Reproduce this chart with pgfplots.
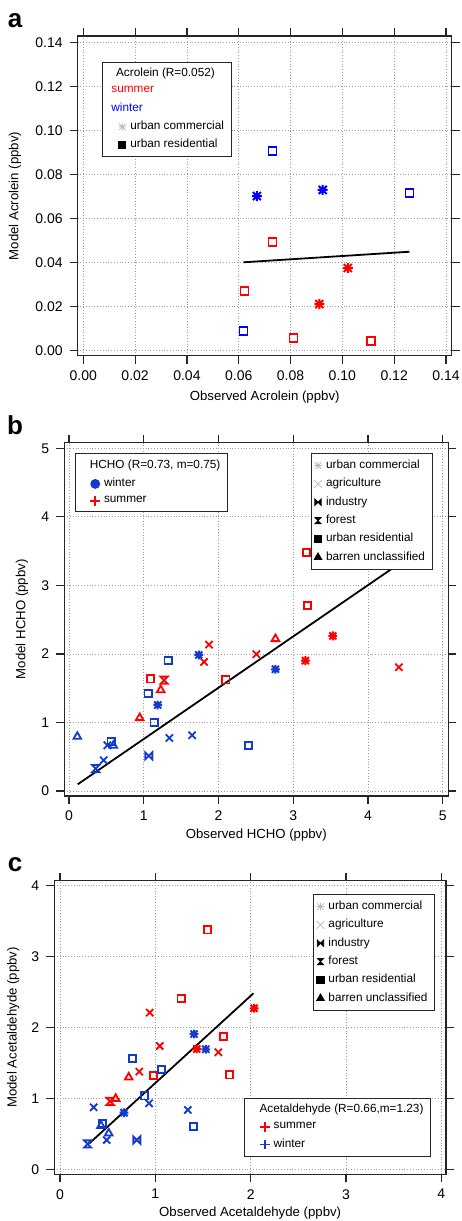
\documentclass[border=0pt]{standalone}
\usepackage{fontspec}
\setmainfont{Liberation Sans}
\usepackage{pgfplots}
\pgfplotsset{compat=1.18}

\definecolor{ared}{RGB}{255,0,0}
\definecolor{ablue}{RGB}{0,0,255}
\definecolor{bblue}{RGB}{18,58,205}

% Igor-like markers
\pgfdeclareplotmark{ast8}{%
  \pgfpathmoveto{\pgfqpoint{-\pgfplotmarksize}{0pt}}\pgfpathlineto{\pgfqpoint{\pgfplotmarksize}{0pt}}%
  \pgfpathmoveto{\pgfqpoint{0pt}{-\pgfplotmarksize}}\pgfpathlineto{\pgfqpoint{0pt}{\pgfplotmarksize}}%
  \pgfpathmoveto{\pgfqpoint{-.8\pgfplotmarksize}{-.8\pgfplotmarksize}}\pgfpathlineto{\pgfqpoint{.8\pgfplotmarksize}{.8\pgfplotmarksize}}%
  \pgfpathmoveto{\pgfqpoint{-.8\pgfplotmarksize}{.8\pgfplotmarksize}}\pgfpathlineto{\pgfqpoint{.8\pgfplotmarksize}{-.8\pgfplotmarksize}}%
  \pgfusepathqstroke}
\pgfdeclareplotmark{xx}{%
  \pgfpathmoveto{\pgfqpoint{-\pgfplotmarksize}{-\pgfplotmarksize}}\pgfpathlineto{\pgfqpoint{\pgfplotmarksize}{\pgfplotmarksize}}%
  \pgfpathmoveto{\pgfqpoint{-\pgfplotmarksize}{\pgfplotmarksize}}\pgfpathlineto{\pgfqpoint{\pgfplotmarksize}{-\pgfplotmarksize}}%
  \pgfusepathqstroke}
\pgfdeclareplotmark{bowtie}{%
  \pgfpathmoveto{\pgfqpoint{-\pgfplotmarksize}{-\pgfplotmarksize}}%
  \pgfpathlineto{\pgfqpoint{\pgfplotmarksize}{\pgfplotmarksize}}%
  \pgfpathlineto{\pgfqpoint{\pgfplotmarksize}{-\pgfplotmarksize}}%
  \pgfpathlineto{\pgfqpoint{-\pgfplotmarksize}{\pgfplotmarksize}}%
  \pgfpathclose\pgfusepathqstroke}
\pgfdeclareplotmark{bowtie*}{%
  \pgfpathmoveto{\pgfqpoint{-\pgfplotmarksize}{-\pgfplotmarksize}}%
  \pgfpathlineto{\pgfqpoint{\pgfplotmarksize}{\pgfplotmarksize}}%
  \pgfpathlineto{\pgfqpoint{\pgfplotmarksize}{-\pgfplotmarksize}}%
  \pgfpathlineto{\pgfqpoint{-\pgfplotmarksize}{\pgfplotmarksize}}%
  \pgfpathclose\pgfusepathqfillstroke}
\pgfdeclareplotmark{hglass}{%
  \pgfpathmoveto{\pgfqpoint{-\pgfplotmarksize}{\pgfplotmarksize}}%
  \pgfpathlineto{\pgfqpoint{\pgfplotmarksize}{\pgfplotmarksize}}%
  \pgfpathlineto{\pgfqpoint{-\pgfplotmarksize}{-\pgfplotmarksize}}%
  \pgfpathlineto{\pgfqpoint{\pgfplotmarksize}{-\pgfplotmarksize}}%
  \pgfpathclose\pgfusepathqstroke}
\pgfdeclareplotmark{hglass*}{%
  \pgfpathmoveto{\pgfqpoint{-\pgfplotmarksize}{\pgfplotmarksize}}%
  \pgfpathlineto{\pgfqpoint{\pgfplotmarksize}{\pgfplotmarksize}}%
  \pgfpathlineto{\pgfqpoint{-\pgfplotmarksize}{-\pgfplotmarksize}}%
  \pgfpathlineto{\pgfqpoint{\pgfplotmarksize}{-\pgfplotmarksize}}%
  \pgfpathclose\pgfusepathqfillstroke}

\pgfplotsset{
  igor/.style={
    scale only axis, anchor=south west,
    axis line style={black!85, line width=0.6pt},
    tick align=outside, major tick length=4pt,
    tick style={black!85, line width=0.6pt},
    grid=major, major grid style={densely dotted, gray!75, line width=0.4pt},
    tick label style={font=\fontsize{7}{8}\selectfont},
    label style={font=\fontsize{6.6}{8}\selectfont},
    /pgf/number format/assume math mode=true,
    legend cell align=left,
    legend style={draw=black!85, line width=0.5pt, fill=white,
      font=\fontsize{5.9}{7}\selectfont, inner xsep=1.5pt, inner ysep=1pt, row sep=-0.6pt},
  },
  pt/.style={only marks, forget plot, line width=0.9pt, mark size=1.8pt},
  as/.style={pt, mark=ast8, line width=1pt, mark size=2.2pt},
  xs/.style={pt, mark=xx, mark size=1.8pt},
  lg/.style={only marks, line width=0.4pt, mark size=2pt},
}

\begin{document}
\begin{tikzpicture}
\path[use as bounding box] (0,0) rectangle (230.5pt,610.5pt);

% ---------------- a: acrolein
\begin{axis}[igor,
  at={(38.85pt,432.65pt)}, width=187pt, height=159.85pt,
  xmin=-0.00216, xmax=0.1422, ymin=-0.00245, ymax=0.14286,
  xtick={0,0.02,...,0.141}, ytick={0,0.02,...,0.141},
  xticklabel style={/pgf/number format/.cd, fixed, fixed zerofill, precision=2},
  yticklabel style={/pgf/number format/.cd, fixed, fixed zerofill, precision=2},
  xlabel={Observed Acrolein (ppbv)}, ylabel={Model Acrolein (ppbv)},
  xlabel style={at={(axis description cs:0.5,-0.128)}, anchor=center},
  ylabel style={at={(axis description cs:-0.1676,0.5)}, anchor=center},
  legend style={at={(0.0642,0.9196)}, anchor=north west},
]
\addplot[pt, mark=square, ablue, mark size=2pt] coordinates {(0.0730,0.0906) (0.1259,0.0716) (0.0618,0.0086)};
\addplot[as, ablue, mark size=2.5pt] coordinates {(0.0670,0.0701) (0.0924,0.0729)};
\addplot[pt, mark=square, ared, mark size=2pt] coordinates {(0.0730,0.0491) (0.0622,0.0270) (0.0811,0.0057) (0.1111,0.0041)};
\addplot[as, ared, mark size=2.5pt] coordinates {(0.1021,0.0374) (0.0911,0.0210)};
\addplot[forget plot, black, line width=0.9pt] coordinates {(0.0618,0.0400) (0.1259,0.0448)};
\addlegendimage{empty legend}\addlegendentry{\hspace{-1.2em}Acrolein (R=0.052)}
\addlegendimage{empty legend}\addlegendentry{\hspace{-1.6em}\textcolor{ared}{summer}}
\addlegendimage{empty legend}\addlegendentry{\hspace{-1.6em}\textcolor{ablue}{winter}}
\addlegendimage{lg, mark=ast8, gray!55}\addlegendentry{urban commercial}
\addlegendimage{lg, mark=square*, black, mark size=1.8pt}\addlegendentry{urban residential}
\end{axis}

% ---------------- b: HCHO
\begin{axis}[igor,
  at={(32.15pt,212.5pt)}, width=192pt, height=176.65pt,
  xmin=-0.063, xmax=5.075, ymin=-0.073, ymax=5.082,
  xtick={0,...,5}, ytick={0,...,5},
  xlabel={Observed HCHO (ppbv)}, ylabel={Model HCHO (ppbv)},
  xlabel style={at={(axis description cs:0.5,-0.110)}, anchor=center},
  ylabel style={at={(axis description cs:-0.110,0.5)}, anchor=center},
  legend style={at={(0.027,0.970)}, anchor=north west},
]
\addplot[pt, mark=square, ared] coordinates {(3.18,3.48) (3.195,2.705) (2.098,1.620) (1.093,1.635)};
\addplot[pt, mark=triangle, ared, mark size=2.2pt] coordinates {(2.762,2.219) (1.227,1.474) (0.946,1.066)};
\addplot[as, ared] coordinates {(3.53,2.263) (3.163,1.902)};
\addplot[xs, ared] coordinates {(4.414,1.806) (2.507,1.995) (1.874,2.136) (1.807,1.883)};
\addplot[pt, mark=hglass, ared] coordinates {(1.272,1.616)};
\addplot[pt, mark=square, bblue] coordinates {(1.325,1.902) (1.058,1.426) (1.138,0.998) (2.400,0.662) (0.562,0.720)};
\addplot[as, bblue] coordinates {(1.736,1.985) (2.762,1.776) (1.187,1.255)};
\addplot[pt, mark=triangle, bblue, mark size=2.2pt] coordinates {(0.111,0.793) (0.593,0.662)};
\addplot[xs, bblue] coordinates {(1.343,0.774) (1.647,0.813) (0.513,0.667) (0.464,0.448)};
\addplot[pt, mark=bowtie, bblue] coordinates {(1.067,0.511)};
\addplot[pt, mark=hglass, bblue] coordinates {(0.357,0.326)};
\addplot[forget plot, black, line width=0.9pt] coordinates {(0.116,0.097) (4.41,3.31)};
\addlegendimage{empty legend}\addlegendentry{\hspace{-1.2em}HCHO (R=0.73, m=0.75)}
\addlegendimage{only marks, mark=*, bblue, mark size=2.2pt}\addlegendentry{winter}
\addlegendimage{only marks, mark=+, ared, line width=0.9pt, mark size=2.4pt}\addlegendentry{summer}
\end{axis}
\begin{axis}[igor, hide axis,
  at={(32.15pt,212.5pt)}, width=192pt, height=176.65pt,
  xmin=-0.063, xmax=5.075, ymin=-0.073, ymax=5.082,
  legend style={at={(0.959,0.970)}, anchor=north east},
]
\addlegendimage{lg, mark=ast8, gray!55}\addlegendentry{urban commercial}
\addlegendimage{lg, mark=xx, gray!55, mark size=1.9pt}\addlegendentry{agriculture}
\addlegendimage{lg, mark=bowtie*, black, mark size=1.6pt}\addlegendentry{industry}
\addlegendimage{lg, mark=hglass*, black, mark size=1.6pt}\addlegendentry{forest}
\addlegendimage{lg, mark=square*, black, mark size=1.8pt}\addlegendentry{urban residential}
\addlegendimage{lg, mark=triangle*, black, mark size=2.2pt}\addlegendentry{barren unclassified}
\end{axis}

% ---------------- c: acetaldehyde
\begin{axis}[igor,
  at={(27.15pt,23.35pt)}, width=195.85pt, height=146.8pt,
  xmin=-0.060, xmax=4.049, ymin=-0.065, ymax=4.070,
  xtick={0,...,4}, ytick={0,...,4},
  xlabel={Observed Acetaldehyde (ppbv)}, ylabel={Model Acetaldehyde (ppbv)},
  xlabel style={at={(axis description cs:0.5,-0.131)}, anchor=center},
  ylabel style={at={(axis description cs:-0.1047,0.5)}, anchor=center},
  legend style={at={(0.9617,0.060)}, anchor=south east},
]
\addplot[pt, mark=square, ared] coordinates {(1.549,3.376) (1.270,2.414) (1.714,1.873) (1.777,1.334) (0.983,1.329)};
\addplot[xs, ared] coordinates {(0.941,2.211) (1.046,1.742) (1.661,1.653) (0.832,1.381)};
\addplot[as, ared] coordinates {(2.036,2.273) (1.434,1.700)};
\addplot[pt, mark=triangle, ared, mark size=2.2pt] coordinates {(0.721,1.301) (0.584,1.000)};
\addplot[pt, mark=hglass, ared] coordinates {(0.525,0.963)};
\addplot[as, bblue] coordinates {(1.406,1.911) (1.529,1.696) (0.672,0.803)};
\addplot[pt, mark=square, bblue] coordinates {(0.759,1.564) (1.063,1.414) (0.885,1.038) (1.399,0.606) (0.444,0.648)};
\addplot[xs, bblue] coordinates {(0.934,0.935) (0.353,0.878) (1.340,0.841) (0.490,0.418)};
\addplot[pt, mark=triangle, bblue, mark size=2.2pt] coordinates {(0.43,0.62) (0.511,0.512)};
\addplot[pt, mark=bowtie, bblue] coordinates {(0.805,0.418)};
\addplot[pt, mark=hglass, bblue] coordinates {(0.29,0.362)};
\addplot[forget plot, black, line width=0.9pt] coordinates {(0.308,0.371) (2.029,2.484)};
\addlegendimage{empty legend}\addlegendentry{\hspace{-1.2em}Acetaldehyde (R=0.66,m=1.23)}
\addlegendimage{only marks, mark=+, ared, line width=0.9pt, mark size=2.4pt}\addlegendentry{summer}
\addlegendimage{only marks, mark=+, bblue, line width=0.9pt, mark size=2.4pt}\addlegendentry{winter}
\end{axis}
\begin{axis}[igor, hide axis,
  at={(27.15pt,23.35pt)}, width=195.85pt, height=146.8pt,
  xmin=-0.060, xmax=4.049, ymin=-0.065, ymax=4.070,
  legend style={at={(0.972,0.9537)}, anchor=north east},
]
\addlegendimage{lg, mark=ast8, gray!55}\addlegendentry{urban commercial}
\addlegendimage{lg, mark=xx, gray!55, mark size=1.9pt}\addlegendentry{agriculture}
\addlegendimage{lg, mark=bowtie*, black, mark size=1.6pt}\addlegendentry{industry}
\addlegendimage{lg, mark=hglass*, black, mark size=1.6pt}\addlegendentry{forest}
\addlegendimage{lg, mark=square*, black, mark size=1.8pt}\addlegendentry{urban residential}
\addlegendimage{lg, mark=triangle*, black, mark size=2.2pt}\addlegendentry{barren unclassified}
\end{axis}

\node[font=\bfseries\fontsize{13}{13}\selectfont, anchor=base] at (7.5pt,596.85pt) {a};
\node[font=\bfseries\fontsize{13}{13}\selectfont, anchor=base] at (7.5pt,393pt) {b};
\node[font=\bfseries\fontsize{13}{13}\selectfont, anchor=base] at (7.5pt,174.65pt) {c};
\end{tikzpicture}
\end{document}
